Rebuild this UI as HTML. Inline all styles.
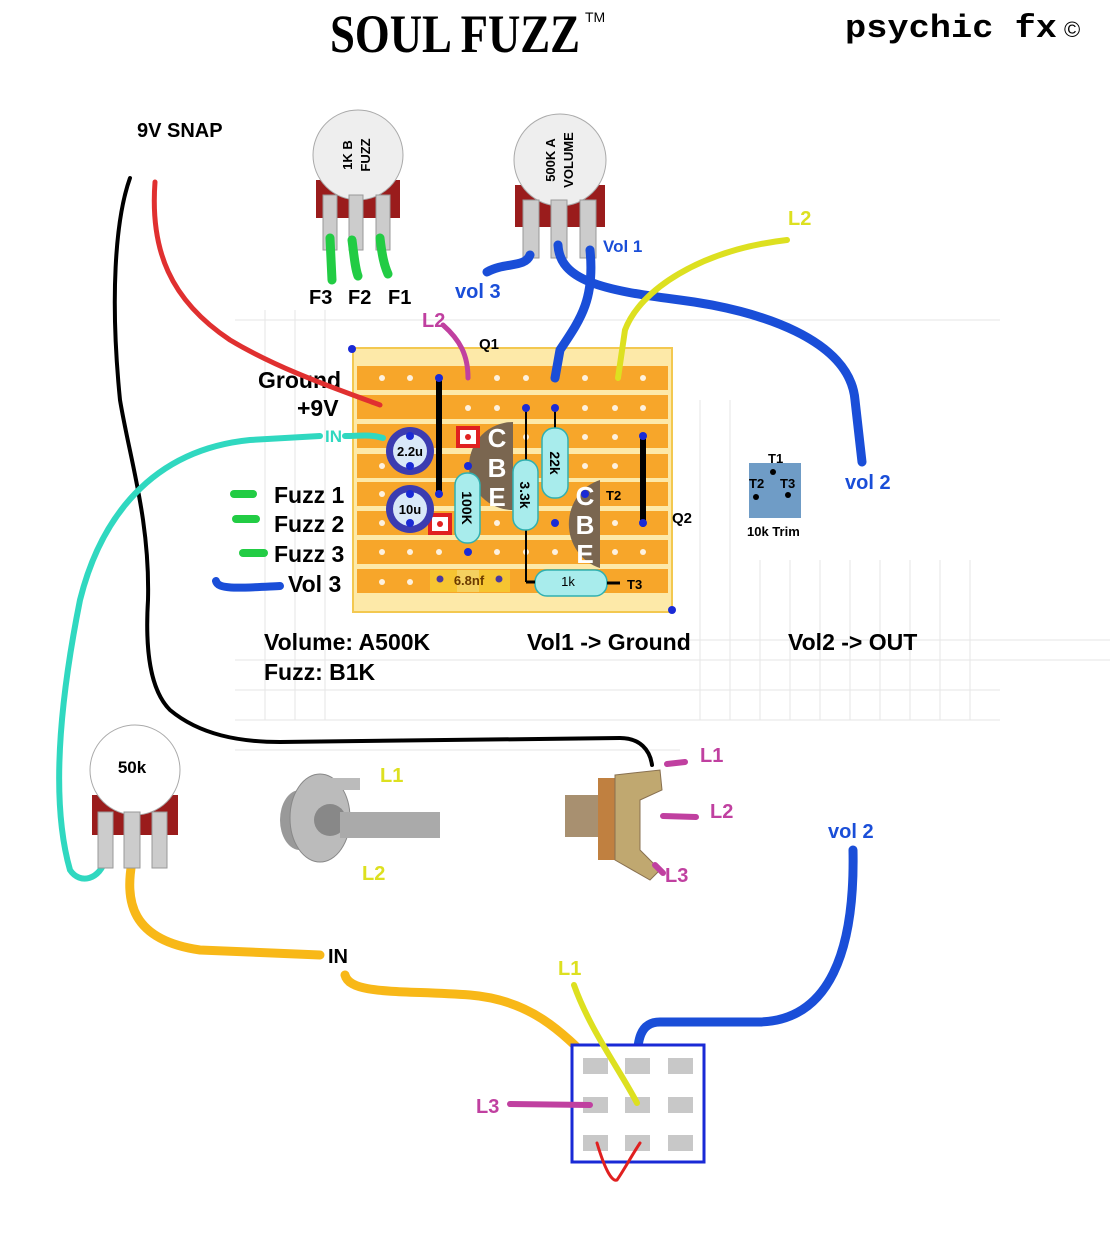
<!DOCTYPE html>
<html><head><meta charset="utf-8"><style>
html,body{margin:0;padding:0;background:#fff;}
svg{display:block;font-family:"Liberation Sans",sans-serif;}
</style></head><body>
<svg width="1113" height="1248" viewBox="0 0 1113 1248" xmlns="http://www.w3.org/2000/svg">
<rect width="1113" height="1248" fill="#fff"/>
<g stroke="#e6e6e6" stroke-width="1">
<path d="M235 320 H1000 M235 660 H1110 M235 690 H1000 M235 720 H1000 M235 750 H680 M680 640 H1110"/>
<path d="M265 310 V720 M295 310 V720 M325 310 V720 M700 400 V720 M730 400 V720 M760 560 V720 M790 560 V720 M820 560 V720 M850 560 V720 M880 560 V720 M910 560 V720 M940 560 V720 M970 560 V720"/>
</g>
<text x="330" y="52" font-size="54" font-weight="bold" font-family="Liberation Serif,serif" textLength="250" lengthAdjust="spacingAndGlyphs">SOUL FUZZ</text>
<text x="585" y="22" font-size="14">TM</text>
<text x="845" y="37" font-size="32" font-weight="bold" font-family="Liberation Mono,monospace" textLength="212" lengthAdjust="spacingAndGlyphs">psychic fx</text>
<text x="1064" y="37" font-size="22">©</text>
<text x="137" y="137" font-size="20" font-weight="bold">9V SNAP</text>

<rect x="316" y="180" width="84" height="38" fill="#9a1c1c"/>
<circle cx="358" cy="155" r="45" fill="#eee" stroke="#aaa"/>
<text transform="translate(352,155) rotate(-90)" text-anchor="middle" font-size="13" font-weight="bold">1K B</text>
<text transform="translate(370,155) rotate(-90)" text-anchor="middle" font-size="13" font-weight="bold">FUZZ</text>
<g fill="#ccc" stroke="#999"><rect x="323" y="195" width="14" height="55"/><rect x="349" y="195" width="14" height="55"/><rect x="376" y="195" width="14" height="55"/></g>
<g stroke="#22cc44" stroke-width="9" stroke-linecap="round" fill="none"><path d="M330 238 L332 280"/><path d="M352 240 C354 255 355 268 358 276"/><path d="M380 238 C382 255 384 265 388 274"/></g>
<g font-size="20" font-weight="bold"><text x="309" y="304">F3</text><text x="348" y="304">F2</text><text x="388" y="304">F1</text></g>

<rect x="515" y="185" width="90" height="42" fill="#9a1c1c"/>
<circle cx="560" cy="160" r="46" fill="#eee" stroke="#aaa"/>
<text transform="translate(555,160) rotate(-90)" text-anchor="middle" font-size="13" font-weight="bold">500K A</text>
<text transform="translate(573,160) rotate(-90)" text-anchor="middle" font-size="13" font-weight="bold">VOLUME</text>
<g fill="#ccc" stroke="#999"><rect x="523" y="200" width="16" height="58"/><rect x="551" y="200" width="16" height="58"/><rect x="580" y="200" width="16" height="58"/></g>

<rect x="353" y="348" width="319" height="264" fill="#fde9a8" stroke="#f3c850" stroke-width="2"/>
<g fill="#f7a62a">
<rect x="357" y="366" width="311" height="24"/><rect x="357" y="395" width="311" height="24"/><rect x="357" y="424" width="311" height="24"/><rect x="357" y="454" width="311" height="24"/><rect x="357" y="482" width="311" height="24"/><rect x="357" y="511" width="311" height="24"/><rect x="357" y="540" width="311" height="24"/><rect x="357" y="569" width="311" height="24"/>
</g>
<g fill="#fff" opacity="0.85">
<circle cx="382" cy="378" r="3"/><circle cx="410" cy="378" r="3"/><circle cx="497" cy="378" r="3"/><circle cx="526" cy="378" r="3"/><circle cx="585" cy="378" r="3"/><circle cx="643" cy="378" r="3"/>
<circle cx="468" cy="408" r="3"/><circle cx="497" cy="408" r="3"/><circle cx="585" cy="408" r="3"/><circle cx="615" cy="408" r="3"/><circle cx="643" cy="408" r="3"/>
<circle cx="585" cy="437" r="3"/><circle cx="615" cy="437" r="3"/><circle cx="526" cy="437" r="3"/>
<circle cx="382" cy="466" r="3"/><circle cx="585" cy="466" r="3"/><circle cx="615" cy="466" r="3"/>
<circle cx="382" cy="494" r="3"/><circle cx="382" cy="523" r="3"/><circle cx="497" cy="523" r="3"/><circle cx="615" cy="523" r="3"/>
<circle cx="382" cy="552" r="3"/><circle cx="410" cy="552" r="3"/><circle cx="439" cy="552" r="3"/><circle cx="497" cy="552" r="3"/><circle cx="526" cy="552" r="3"/><circle cx="555" cy="552" r="3"/><circle cx="615" cy="552" r="3"/><circle cx="643" cy="552" r="3"/>
<circle cx="382" cy="582" r="3"/><circle cx="410" cy="582" r="3"/>
</g>
<circle cx="352" cy="349" r="4" fill="#1a2ad6"/><circle cx="672" cy="610" r="4" fill="#1a2ad6"/>
<g stroke="#000" stroke-width="6" stroke-linecap="round"><path d="M439 378 V494"/><path d="M643 436 V524"/></g>
<g stroke="#000" stroke-width="2"><path d="M526 408 V582"/><path d="M555 408 V440"/></g>
<rect x="430" y="570" width="80" height="22" fill="#f6c431"/>
<rect x="457" y="570" width="22" height="22" fill="#f4d060"/>
<text x="469" y="585" font-size="13" font-weight="bold" text-anchor="middle" fill="#6b3a00">6.8nf</text>
<circle cx="440" cy="579" r="3.5" fill="#4a3aa0"/><circle cx="499" cy="579" r="3.5" fill="#4a3aa0"/>
<path d="M513 422 A44 44 0 0 0 513 510 Z" fill="#7a6650"/>
<path d="M600 480 A44 46 0 0 0 600 568 Z" fill="#7a6650"/>
<g fill="#fff" font-size="26" font-weight="bold" text-anchor="middle"><text x="497" y="447">C</text><text x="497" y="477">B</text><text x="497" y="506">E</text><text x="585" y="505">C</text><text x="585" y="534">B</text><text x="585" y="563">E</text></g>
<text x="606" y="500" font-size="13" font-weight="bold">T2</text>
<rect x="458" y="428" width="20" height="18" fill="#fff" stroke="#e02020" stroke-width="4"/><circle cx="468" cy="437" r="3" fill="#e02020"/>
<rect x="430" y="515" width="20" height="18" fill="#fff" stroke="#e02020" stroke-width="4"/><circle cx="440" cy="524" r="3" fill="#e02020"/>
<circle cx="410" cy="451" r="24" fill="#3c3cb0"/><circle cx="410" cy="451" r="17" fill="#d8e8f8"/>
<text x="410" y="456" font-size="13" font-weight="bold" text-anchor="middle">2.2u</text>
<circle cx="410" cy="509" r="24" fill="#3c3cb0"/><circle cx="410" cy="509" r="17" fill="#d8e8f8"/>
<text x="410" y="514" font-size="13" font-weight="bold" text-anchor="middle">10u</text>
<g fill="#a8ecec" stroke="#30b0b0" stroke-width="1.5">
<rect x="455" y="473" width="25" height="70" rx="12"/>
<rect x="513" y="460" width="25" height="70" rx="12"/>
<rect x="542" y="428" width="26" height="70" rx="12"/>
<rect x="535" y="570" width="72" height="26" rx="12"/>
</g>
<g font-size="14" font-weight="bold" text-anchor="middle">
<text transform="translate(467,508) rotate(90)" y="5">100K</text>
<text transform="translate(525,495) rotate(90)" y="5">3.3k</text>
<text transform="translate(555,463) rotate(90)" y="5">22k</text>
</g>
<text x="568" y="586" font-size="13" text-anchor="middle">1k</text>
<path d="M526 582 H535 M607 583 H620" stroke="#000" stroke-width="3"/>
<text x="627" y="589" font-size="13" font-weight="bold">T3</text>
<g fill="#1a2ad6"><circle cx="439" cy="378" r="4"/><circle cx="439" cy="494" r="4"/><circle cx="643" cy="436" r="4"/><circle cx="643" cy="523" r="4"/><circle cx="526" cy="408" r="4"/><circle cx="555" cy="408" r="4"/><circle cx="468" cy="466" r="4"/><circle cx="468" cy="552" r="4"/><circle cx="410" cy="436" r="4"/><circle cx="410" cy="466" r="4"/><circle cx="410" cy="494" r="4"/><circle cx="410" cy="523" r="4"/><circle cx="585" cy="494" r="4"/><circle cx="555" cy="523" r="4"/></g>
<text x="479" y="349" font-size="15" font-weight="bold">Q1</text>
<text x="672" y="523" font-size="15" font-weight="bold">Q2</text>

<g font-size="23" font-weight="bold">
<text x="258" y="388">Ground</text><text x="297" y="416">+9V</text>
<text x="274" y="503">Fuzz 1</text><text x="274" y="532">Fuzz 2</text><text x="274" y="562">Fuzz 3</text><text x="288" y="592">Vol 3</text>
<text x="264" y="650">Volume: A500K</text><text x="264" y="680">Fuzz: B1K</text>
<text x="527" y="650">Vol1 -&gt; Ground</text><text x="788" y="650">Vol2 -&gt; OUT</text>
</g>
<g stroke="#22cc44" stroke-width="8" stroke-linecap="round"><path d="M234 494 H253"/><path d="M236 519 H256"/><path d="M243 553 H264"/></g>
<path d="M216 581 C218 590 240 588 280 586" stroke="#1a4ed8" stroke-width="8" stroke-linecap="round" fill="none"/>

<rect x="749" y="463" width="52" height="55" fill="#6f9cc6"/>
<circle cx="773" cy="472" r="3" fill="#000"/><circle cx="756" cy="497" r="3" fill="#000"/><circle cx="788" cy="495" r="3" fill="#000"/>
<g font-size="13" font-weight="bold"><text x="768" y="463">T1</text><text x="749" y="488">T2</text><text x="780" y="488">T3</text><text x="747" y="536">10k Trim</text></g>

<g fill="none" stroke-linecap="round">
<path d="M130 178 C115 220 110 300 120 400 C130 460 150 520 148 600 C145 650 150 690 170 710 C200 735 240 742 280 742 L620 738 C640 738 650 750 652 765" stroke="#000" stroke-width="4"/>
<path d="M155 182 C150 250 170 300 230 340 C280 370 340 390 380 405" stroke="#e03030" stroke-width="5"/>
<path d="M383 438 C370 434 360 436 345 436 M320 436 L250 440 C150 450 100 520 80 600 C60 700 50 800 70 870 C80 885 100 880 106 858" stroke="#30d8c0" stroke-width="6"/>
<path d="M132 862 C125 900 130 940 200 950 L320 955" stroke="#f8b818" stroke-width="9"/>
<path d="M345 975 C350 995 400 990 470 995 C530 1000 560 1030 595 1065" stroke="#f8b818" stroke-width="9"/>
<path d="M558 245 C560 280 600 290 680 300 C760 310 850 340 855 400 L862 462" stroke="#1a4ed8" stroke-width="9"/>
<path d="M590 250 C595 300 580 320 560 350 L555 378" stroke="#1a4ed8" stroke-width="9"/>
<path d="M530 255 C525 268 505 262 487 272" stroke="#1a4ed8" stroke-width="9"/>
<path d="M787 240 C700 250 640 290 625 330 L618 378" stroke="#dde020" stroke-width="6"/>
<path d="M443 325 C460 340 468 355 468 378" stroke="#c040a0" stroke-width="5"/>
<path d="M853 850 C855 950 830 1020 760 1022 L660 1022 C640 1022 637 1040 637 1065" stroke="#1a4ed8" stroke-width="9"/>
</g>
<g font-size="20" font-weight="bold">
<text x="325" y="442" fill="#30d8c0" font-size="17">IN</text>
<text x="455" y="298" fill="#1a4ed8">vol 3</text>
<text x="603" y="252" fill="#1a4ed8" font-size="17">Vol 1</text>
<text x="788" y="225" fill="#dde020">L2</text>
<text x="422" y="327" fill="#c040a0">L2</text>
<text x="845" y="489" fill="#1a4ed8">vol 2</text>
<text x="828" y="838" fill="#1a4ed8">vol 2</text>
<text x="328" y="963" fill="#000">IN</text>
</g>

<rect x="92" y="795" width="86" height="40" fill="#9a1c1c"/>
<circle cx="135" cy="770" r="45" fill="#fff" stroke="#aaa"/>
<text x="132" y="773" font-size="17" font-weight="bold" text-anchor="middle">50k</text>
<g fill="#ccc" stroke="#999"><rect x="98" y="812" width="15" height="56"/><rect x="124" y="812" width="16" height="56"/><rect x="152" y="812" width="15" height="56"/></g>

<ellipse cx="300" cy="820" rx="20" ry="30" fill="#999"/>
<ellipse cx="320" cy="818" rx="30" ry="44" fill="#bbb" stroke="#888"/>
<circle cx="330" cy="820" r="16" fill="#888"/>
<rect x="340" y="812" width="100" height="26" fill="#aaa"/>
<rect x="330" y="778" width="30" height="12" fill="#bbb"/>
<g font-size="20" font-weight="bold" fill="#dde020"><text x="380" y="782">L1</text><text x="362" y="880">L2</text></g>

<rect x="565" y="795" width="35" height="42" fill="#a89070"/>
<rect x="598" y="778" width="20" height="82" fill="#c08040"/>
<path d="M615 775 L660 770 L662 790 L640 800 L640 850 L660 870 L650 880 L615 860 Z" fill="#c0a870" stroke="#887050"/>
<g stroke="#c040a0" stroke-width="6" stroke-linecap="round"><path d="M667 764 L685 762"/><path d="M663 816 L696 817"/><path d="M655 865 L663 873"/></g>
<g font-size="20" font-weight="bold" fill="#c040a0"><text x="700" y="762">L1</text><text x="710" y="818">L2</text><text x="665" y="882">L3</text></g>

<rect x="572" y="1045" width="132" height="117" fill="#fff" stroke="#1a2ad6" stroke-width="3"/>
<g fill="#c8c8c8"><rect x="583" y="1058" width="25" height="16"/><rect x="625" y="1058" width="25" height="16"/><rect x="668" y="1058" width="25" height="16"/><rect x="583" y="1097" width="25" height="16"/><rect x="625" y="1097" width="25" height="16"/><rect x="668" y="1097" width="25" height="16"/><rect x="583" y="1135" width="25" height="16"/><rect x="625" y="1135" width="25" height="16"/><rect x="668" y="1135" width="25" height="16"/></g>
<g fill="none" stroke-linecap="round">
<path d="M574 985 C590 1030 620 1070 637 1103" stroke="#dde020" stroke-width="6"/>
<path d="M510 1104 L590 1105" stroke="#c040a0" stroke-width="6"/>
<path d="M597 1143 C605 1170 612 1182 617 1180 C624 1170 632 1155 640 1143" stroke="#e02020" stroke-width="3"/>
</g>
<g font-size="20" font-weight="bold"><text x="558" y="975" fill="#dde020">L1</text><text x="476" y="1113" fill="#c040a0">L3</text></g>
</svg>
</body></html>
